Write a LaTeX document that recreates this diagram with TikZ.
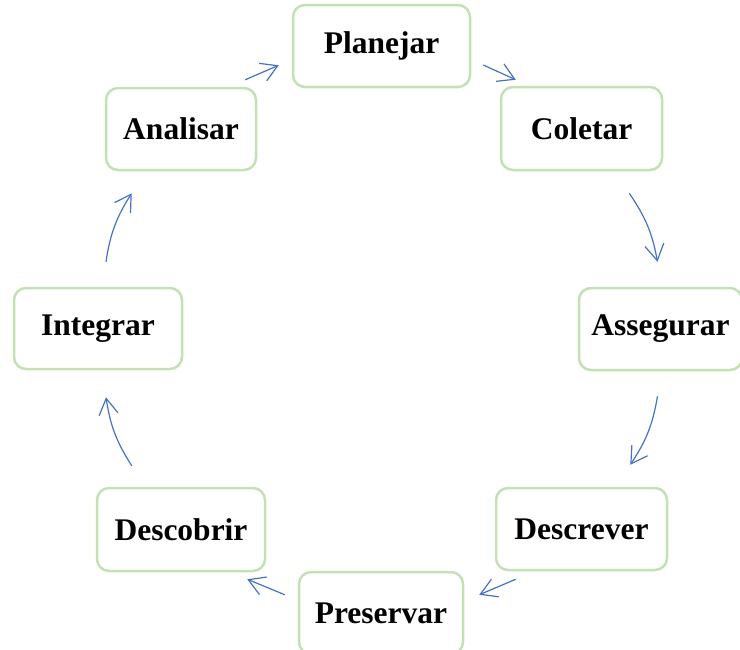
\documentclass[tikz,border=0pt]{standalone}
\usepackage{fontspec}
\setmainfont{Liberation Serif}
\usetikzlibrary{arrows.meta}
\definecolor{boxgreen}{RGB}{197,224,180}
\definecolor{arrblue}{RGB}{68,114,196}
\begin{document}
\begin{tikzpicture}[x=1pt,y=-1pt,
  stage/.style={draw=boxgreen, line width=2.5pt, rounded corners=12pt, fill=white,
    inner sep=0pt, font=\fontsize{31.5}{36}\selectfont\bfseries, align=center},
  arr/.style={draw=arrblue, line width=1.2pt, -{Straight Barb[length=16pt,width=19pt,line width=1.2pt]}}]
\useasboundingbox (0,0) rectangle (740,649);
\node[stage, minimum width=177pt, minimum height=82pt] (pla) at (381.5,46) {Planejar};
\node[stage, minimum width=161pt, minimum height=83pt] (col) at (581.5,128.5) {Coletar};
\node[stage, minimum width=163pt, minimum height=82pt] (ase) at (660.5,329) {Assegurar};
\node[stage, minimum width=171pt, minimum height=82pt] (des) at (581.5,529) {Descrever};
\node[stage, minimum width=164pt, minimum height=82pt] (pre) at (381,613) {Preservar};
\node[stage, minimum width=168pt, minimum height=83pt] (dsc) at (181,529.5) {Descobrir};
\node[stage, minimum width=168pt, minimum height=81pt] (int) at (98,328.5) {Integrar};
\node[stage, minimum width=150pt, minimum height=82pt] (ana) at (181,129) {Analisar};

\draw[arr] ([shift={(-12,-7)}]ana.north east) to ([shift={(-13,-23)}]pla.south west);
\draw[arr] ([shift={(12,19)}]pla.east) to ([shift={(16,-6)}]col.north west);
\draw[arr] ([shift={(-34,22)}]col.south east) to[bend left=12] ([shift={(-3,-25)}]ase.north);
\draw[arr] ([shift={(-3,25)}]ase.south) to[bend left=12] ([shift={(-38,-22)}]des.north east);
\draw[arr] ([shift={(21,8)}]des.south west) to ([shift={(15,24)}]pre.north east);
\draw[arr] ([shift={(-13,24)}]pre.north west) to ([shift={(-19,7)}]dsc.south east);
\draw[arr] ([shift={(36,-21)}]dsc.north west) to[bend left=12] ([shift={(8,27)}]int.south);
\draw[arr] ([shift={(8,-25)}]int.north) to[bend left=12] ([shift={(27,22)}]ana.south west);
\end{tikzpicture}
\end{document}
